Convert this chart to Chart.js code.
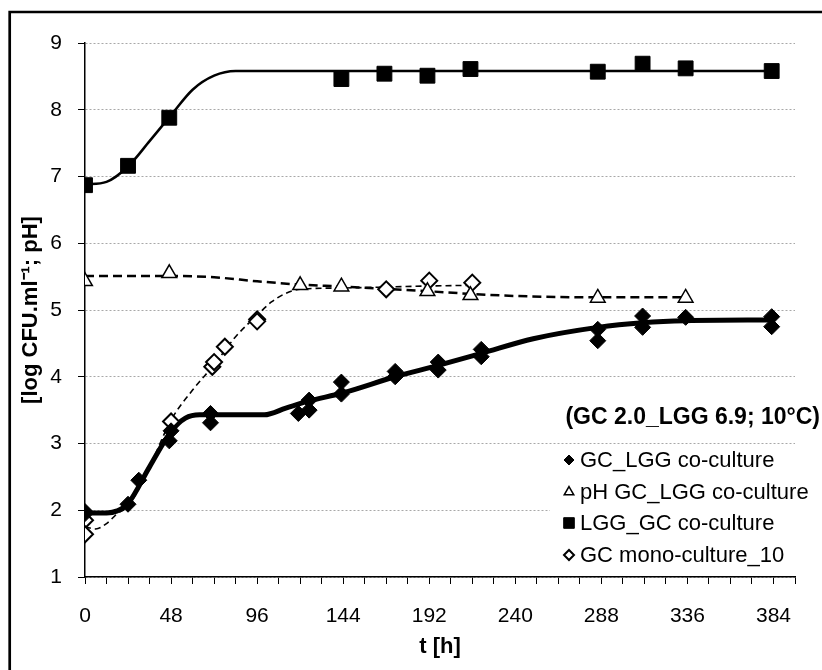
<!DOCTYPE html>
<html>
<head>
<meta charset="utf-8">
<script src="https://cdn.jsdelivr.net/npm/chart.js@4.4.1/dist/chart.umd.min.js"></script>
<style>
body { margin: 0; background: #fff; }
#wrap { width: 822px; height: 670px; }
</style>
</head>
<body>
<div id="wrap"><canvas id="graph" width="822" height="670"></canvas></div>
<script>
// measured points
var gcTimes = [0, 0, 24, 30, 47, 48, 70, 70, 119, 125, 125, 143, 143, 173, 173, 197, 197, 221, 221, 286, 286, 311, 311, 335, 383, 383]
var gcValues = [1.98, 1.95, 2.09, 2.45, 3.04, 3.19, 3.45, 3.31, 3.45, 3.65, 3.50, 3.92, 3.74, 4.08, 4.00, 4.22, 4.10, 4.41, 4.30, 4.71, 4.54, 4.91, 4.74, 4.89, 4.90, 4.75]

var phTimes = [0, 47, 120, 143, 191, 215, 286, 335]
var phValues = [5.43, 5.55, 5.37, 5.35, 5.28, 5.22, 5.18, 5.18]

var lggTimes = [0, 24, 47, 143, 167, 191, 215, 286, 311, 335, 383]
var lggValues = [6.87, 7.16, 7.88, 8.46, 8.54, 8.51, 8.61, 8.57, 8.69, 8.62, 8.58]

var monoTimes = [0, 0, 48, 71, 72, 78, 96, 96, 168, 192, 216]
var monoValues = [1.85, 1.64, 3.33, 4.15, 4.22, 4.45, 4.86, 4.83, 5.31, 5.44, 5.41]

// fitted curves
var gcFitTimes = [0, 12, 18, 24, 36, 48, 56, 64, 72, 100, 112, 124, 144, 173, 197, 221, 250, 286, 311, 335, 384]
var gcFitValues = [1.96, 1.96, 1.99, 2.1, 2.65, 3.18, 3.38, 3.43, 3.43, 3.43, 3.53, 3.63, 3.76, 4.0, 4.17, 4.35, 4.57, 4.74, 4.81, 4.84, 4.85]

var phFitTimes = [0, 48, 72, 96, 120, 144, 192, 216, 240, 288, 336]
var phFitValues = [5.51, 5.51, 5.49, 5.43, 5.38, 5.35, 5.28, 5.24, 5.21, 5.19, 5.19]

var lggFitTimes = [0, 12, 24, 36, 48, 60, 72, 84, 384]
var lggFitValues = [6.88, 6.92, 7.15, 7.53, 7.92, 8.3, 8.51, 8.58, 8.58]

var monoFitTimes = [0, 6, 12, 18, 24, 36, 48, 60, 72, 84, 96, 104, 112, 120, 144, 192, 216]
var monoFitValues = [1.75, 1.72, 1.8, 1.95, 2.06, 2.65, 3.35, 3.8, 4.18, 4.6, 4.92, 5.12, 5.25, 5.31, 5.33, 5.36, 5.37]

var legendLabels = ['GC_LGG co-culture', 'pH GC_LGG co-culture', 'LGG_GC co-culture', 'GC mono-culture_10']
var boxTitle = '(GC 2.0_LGG 6.9; 10°C)'

var font = "'Liberation Sans', Arial, sans-serif"

function pts(xs, ys) {
    return xs.map(function (x, i) { return { x: x, y: ys[i] } })
}

var markers = [
    { style: 'rectRot', r: 8, fill: '#000', bw: 1, lr: 5 },
    { style: 'triangle', r: 8.5, fill: '#fff', bw: 1.5, lr: 5.5 },
    { style: 'rect', r: 10.5, fill: '#000', bw: 1, lr: 7.5 },
    { style: 'rectRot', r: 8, fill: '#fff', bw: 2, lr: 5 }
]

function pointSet(xs, ys, m) {
    return {
        data: pts(xs, ys),
        showLine: false,
        pointStyle: m.style,
        pointRadius: m.r,
        pointBackgroundColor: m.fill,
        pointBorderColor: '#000',
        pointBorderWidth: m.bw
    }
}

function fitSet(xs, ys, w, dash) {
    return {
        data: pts(xs, ys),
        borderColor: '#000',
        borderWidth: w,
        borderDash: dash,
        pointRadius: 0,
        cubicInterpolationMode: 'monotone',
        fill: false
    }
}

var frame = {
    id: 'frame',
    beforeDraw: function (chart) {
        var c = chart.ctx
        c.save()
        c.fillStyle = '#fff'
        c.fillRect(0, 0, chart.width, chart.height)
        c.restore()
    },
    afterDraw: function (chart) {
        var c = chart.ctx
        c.save()
        // outer frame
        c.strokeStyle = '#000'
        c.lineWidth = 2.7
        c.beginPath()
        c.moveTo(9.7, 700)
        c.lineTo(9.7, 12)
        c.lineTo(830, 12)
        c.stroke()

        // legend box
        c.fillStyle = '#fff'
        c.fillRect(550, 448, 250, 124)
        c.fillStyle = '#000'
        c.font = 'bold 23px ' + font
        c.textAlign = 'right'
        c.textBaseline = 'middle'
        c.fillText(boxTitle, 820, 418)

        c.font = '22px ' + font
        c.textAlign = 'left'
        var rows = [460, 492, 523, 555]
        for (var i = 0; i < legendLabels.length; i++) {
            var m = markers[i]
            c.fillStyle = m.fill
            c.strokeStyle = '#000'
            c.lineWidth = m.bw
            Chart.helpers.drawPoint(c, { pointStyle: m.style, radius: m.lr, rotation: 0, borderWidth: m.bw }, 569, rows[i])
            c.fillStyle = '#000'
            c.fillText(legendLabels[i], 580, rows[i] + 1)
        }
        c.restore()
    }
}

var ctx = document.getElementById('graph').getContext('2d')

var myChart = new Chart(ctx, {
    type: 'line',
    data: {
        datasets: [
            pointSet(gcTimes, gcValues, markers[0]),
            pointSet(phTimes, phValues, markers[1]),
            pointSet(lggTimes, lggValues, markers[2]),
            pointSet(monoTimes, monoValues, markers[3]),
            fitSet(gcFitTimes, gcFitValues, 5, []),
            fitSet(phFitTimes, phFitValues, 2.5, [9, 5]),
            fitSet(lggFitTimes, lggFitValues, 2.5, []),
            fitSet(monoFitTimes, monoFitValues, 1.6, [6, 4])
        ]
    },
    options: {
        responsive: false,
        animation: false,
        events: [],
        layout: {
            padding: { left: 10, right: 27, top: 43, bottom: 6 }
        },
        plugins: {
            legend: { display: false },
            tooltip: { enabled: false }
        },
        scales: {
            x: {
                type: 'linear',
                min: 0,
                max: 396,
                afterFit: function (s) { s.height = 87 },
                ticks: {
                    stepSize: 12,
                    autoSkip: false,
                    maxRotation: 0,
                    padding: 20,
                    color: '#000',
                    font: { family: font, size: 21 },
                    callback: function (v) { return v % 48 === 0 ? v : '' }
                },
                grid: {
                    drawOnChartArea: false,
                    tickLength: 7,
                    tickColor: '#000',
                    tickWidth: 1
                },
                border: { color: '#000', width: 1.5 },
                title: {
                    display: true,
                    text: 't [h]',
                    color: '#000',
                    font: { family: font, size: 22, weight: 'bold' },
                    padding: { top: 0, bottom: 4 }
                }
            },
            y: {
                min: 1,
                max: 9,
                afterFit: function (s) { s.width = 75 },
                ticks: {
                    stepSize: 1,
                    padding: 16,
                    color: '#000',
                    font: { family: font, size: 21 }
                },
                grid: {
                    color: '#a8a8a8',
                    lineWidth: 1,
                    tickLength: 7,
                    tickColor: '#000'
                },
                border: { color: '#000', width: 1.5, dash: [2, 2] },
                title: {
                    display: true,
                    text: '[log CFU.ml⁻¹; pH]',
                    color: '#000',
                    font: { family: font, size: 22, weight: 'bold' },
                    padding: { top: 8, bottom: 0 }
                }
            }
        }
    },
    plugins: [frame]
})
</script>
</body>
</html>
